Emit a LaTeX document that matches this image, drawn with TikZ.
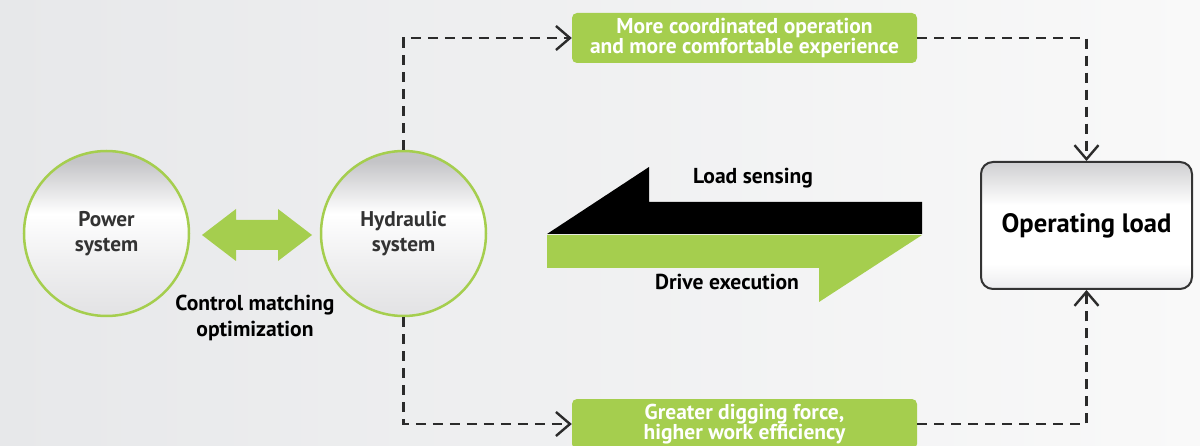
\documentclass[tikz,border=0pt]{standalone}
\usepackage{fontspec}
\setmainfont{PT Sans}
\usetikzlibrary{arrows.meta,calc}
\definecolor{lgreen}{HTML}{A5CE4E}
\definecolor{dgray}{HTML}{333333}
\definecolor{lgray}{HTML}{2B2B2B}
\definecolor{ctop}{HTML}{C4C4C7}
\definecolor{cmid}{HTML}{F0F0F1}
\definecolor{cbot}{HTML}{E2E2E4}
\definecolor{btop}{HTML}{CFCFD1}
\definecolor{bbot}{HTML}{ECECEE}
\definecolor{bgl}{HTML}{E7E8EA}
\definecolor{bgr}{HTML}{F9F9F9}
\pgfdeclareverticalshading{circshade}{100bp}{color(0bp)=(cbot); color(25bp)=(cbot); color(42bp)=(cmid); color(56bp)=(white); color(72bp)=(ctop); color(100bp)=(ctop)}
\pgfdeclareverticalshading{boxshade}{100bp}{color(0bp)=(bbot); color(25bp)=(bbot); color(35bp)=(white); color(58bp)=(white); color(75bp)=(btop); color(100bp)=(btop)}
\tikzset{
  sysnode/.style={circle, minimum size=165pt, inner sep=0pt, draw=lgreen, line width=2.5pt,
    shading=circshade, text=dgray, align=center, font=\fontsize{21.3}{25}\selectfont\bfseries},
  greenbox/.style={rectangle, rounded corners=5pt, fill=lgreen, minimum width=345pt, minimum height=50pt,
    inner sep=0pt, text=white, align=center, font=\fontsize{21.5}{20}\selectfont\bfseries},
  loadbox/.style={rectangle, rounded corners=12pt, draw=dgray, line width=2pt, shading=boxshade,
    minimum width=211pt, minimum height=127pt, inner sep=0pt, font=\fontsize{26.6}{30}\selectfont\bfseries},
  lbl/.style={text=black, align=center, font=\fontsize{21.6}{26}\selectfont\bfseries},
  dashline/.style={draw=lgray, line width=2.4pt, dash pattern=on 10pt off 7pt,
    -{Straight Barb[length=14pt,width=24pt]}},
}
\begin{document}
\begin{tikzpicture}[x=1pt,y=-1pt]
\shade[left color=bgl, right color=bgr] (0,0) rectangle (1200,446);
\useasboundingbox (0,0) rectangle (1200,446);

\node[sysnode] (power) at (106.5,233.5) {Power\\system};
\node[sysnode] (hyd) at (403.5,233.5) {Hydraulic\\system};
\node[greenbox] (top) at (744.5,38) {More coordinated operation\\and more comfortable experience};
\node[greenbox] (bot) at (744.5,424) {Greater digging force,\\higher work efficiency};
\node[loadbox] (load) at (1086.5,225.5) {Operating load};

% double arrow between systems
\coordinate (da) at (257,235);
\fill[lgreen] ($(da)+(-55,0)$) -- ($(da)+(-21,-26)$) -- ($(da)+(-21,-15)$) -- ($(da)+(21,-15)$)
  -- ($(da)+(21,-26)$) -- ($(da)+(55,0)$) -- ($(da)+(21,26)$) -- ($(da)+(21,15)$)
  -- ($(da)+(-21,15)$) -- ($(da)+(-21,26)$) -- cycle;
\node[lbl] (cm) at (255,318) {Control matching\\optimization};

% big half arrows
\fill[black] (547,234) -- (649,167) -- (649,202) -- (922,202) -- (922,234) -- cycle;
\fill[lgreen] (547,235) -- (922,235) -- (819,302) -- (819,268) -- (547,268) -- cycle;
\node[lbl] (ls) at (753,178) {Load sensing};
\node[lbl] (de) at (727,282) {Drive execution};

% dashed connectors
\draw[dashline] (hyd.north) |- (top.west);
\draw[dashline] (top.east) -| (load.north);
\draw[dashline] (hyd.south) |- (bot.west);
\draw[dashline] (bot.east) -| (load.south);
\end{tikzpicture}
\end{document}
